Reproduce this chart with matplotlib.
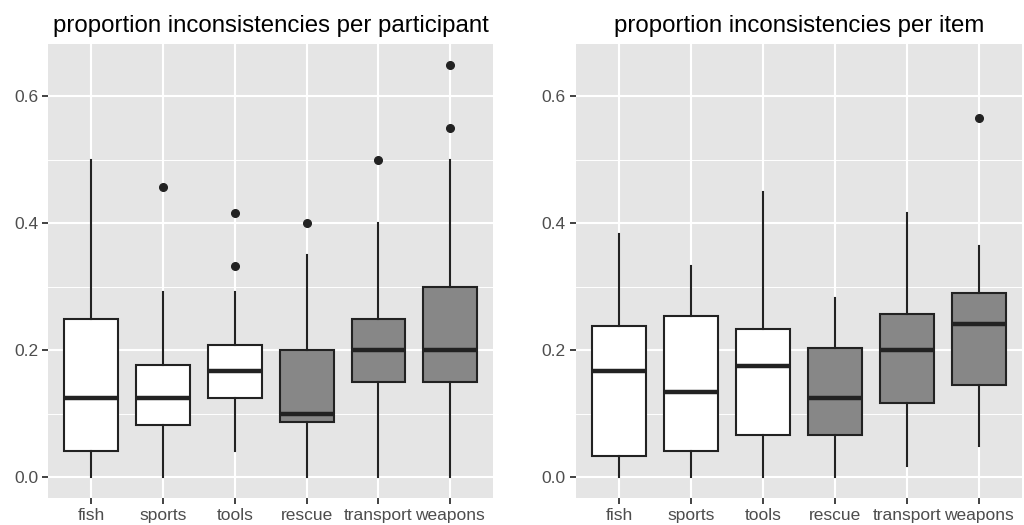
import matplotlib
matplotlib.use("Agg")
import matplotlib.pyplot as plt
from matplotlib.ticker import MultipleLocator

plt.rcParams['font.family'] = ['Liberation Sans', 'DejaVu Sans']

categories = ["fish", "sports", "tools", "rescue", "transport", "weapons"]
fills = ["#FFFFFF", "#FFFFFF", "#FFFFFF", "#878787", "#878787", "#878787"]

# per participant
p_wlo = [0.0, 0.0, 0.042, 0.0, 0.0, 0.0]
p_q1 = [0.042, 0.083, 0.125, 0.0875, 0.15, 0.15]
p_med = [0.125, 0.125, 0.167, 0.10, 0.20, 0.20]
p_q3 = [0.25, 0.1775, 0.208, 0.20, 0.25, 0.30]
p_whi = [0.50, 0.292, 0.292, 0.35, 0.40, 0.50]
p_out = [[], [0.458], [0.417, 0.333], [0.40], [0.50], [0.65, 0.55]]

# per item
i_wlo = [0.0, 0.0, 0.0, 0.0, 0.0175, 0.05]
i_q1 = [0.033, 0.042, 0.066, 0.066, 0.1165, 0.146]
i_med = [0.167, 0.134, 0.175, 0.125, 0.20, 0.2415]
i_q3 = [0.238, 0.254, 0.233, 0.204, 0.258, 0.291]
i_whi = [0.383, 0.333, 0.449, 0.283, 0.416, 0.365]
i_out = [[], [], [], [], [], [0.566]]

titles = ["proportion inconsistencies per participant",
          "proportion inconsistencies per item"]
yticks = [0.0, 0.2, 0.4, 0.6]

fig = plt.figure(figsize=(10.24, 5.25), dpi=100)
ax1 = fig.add_axes([48.3/1024, 1-498/525, 445/1024, 454/525])
ax2 = fig.add_axes([575.7/1024, 1-498/525, 446.3/1024, 454/525])

panels = [
    (ax1, p_wlo, p_q1, p_med, p_q3, p_whi, p_out, titles[0]),
    (ax2, i_wlo, i_q1, i_med, i_q3, i_whi, i_out, titles[1]),
]

line_col = "#222222"
for ax, wlo, q1, med, q3, whi, outs, title in panels:
    ax.set_facecolor("#E5E5E5")
    stats = []
    for k in range(len(categories)):
        stats.append(dict(whislo=wlo[k], q1=q1[k], med=med[k], q3=q3[k],
                          whishi=whi[k], fliers=outs[k], label=categories[k]))
    positions = list(range(1, len(categories) + 1))
    bp = ax.bxp(stats, positions=positions, widths=0.75, patch_artist=True,
                showcaps=False, zorder=3,
                boxprops=dict(edgecolor=line_col, linewidth=1.5),
                whiskerprops=dict(color=line_col, linewidth=1.5),
                medianprops=dict(color=line_col, linewidth=3.2, solid_capstyle='butt'),
                flierprops=dict(marker='o', markerfacecolor=line_col,
                                markeredgecolor=line_col, markersize=5.5))
    for patch, fc in zip(bp['boxes'], fills):
        patch.set_facecolor(fc)
    ax.set_xlim(0.4, 6.6)
    ax.set_ylim(-0.0325, 0.6825)
    ax.set_yticks(yticks)
    ax.set_yticklabels([f"{v:.1f}" for v in yticks])
    ax.yaxis.set_minor_locator(MultipleLocator(0.1))
    ax.set_xticks(positions)
    ax.set_xticklabels(categories)
    ax.grid(True, which='major', color='white', linewidth=1.5, zorder=0)
    ax.grid(True, which='minor', axis='y', color='white', linewidth=0.7, zorder=0)
    ax.set_axisbelow(True)
    for s in ax.spines.values():
        s.set_visible(False)
    ax.tick_params(axis='both', which='major', length=4, width=1.3,
                   color='#333333', labelcolor='#4D4D4D', labelsize=12.5, pad=3)
    ax.tick_params(axis='y', which='minor', length=0)
    ax.set_title(title, fontsize=17.3, color='black', pad=9)

fig.savefig("out.png", dpi=100)
